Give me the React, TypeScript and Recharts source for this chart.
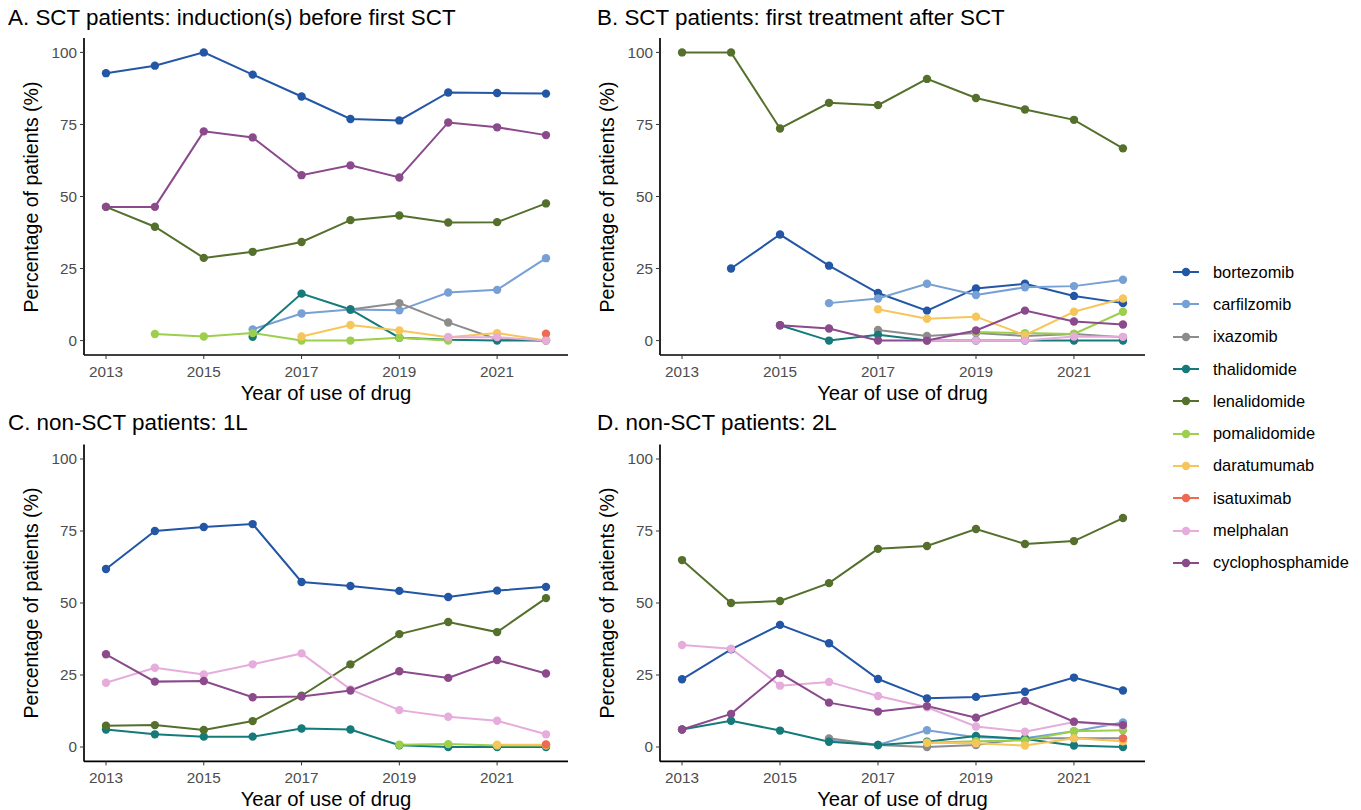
import React from "react";
import { LineChart, Line, XAxis, YAxis } from "recharts";

const years = [2013, 2014, 2015, 2016, 2017, 2018, 2019, 2020, 2021, 2022];
const yearTicks = [2013, 2015, 2017, 2019, 2021];
const pctTicks = [0, 25, 50, 75, 100];

const drugs = [
  "bortezomib",
  "carfilzomib",
  "ixazomib",
  "thalidomide",
  "lenalidomide",
  "pomalidomide",
  "daratumumab",
  "isatuximab",
  "melphalan",
  "cyclophosphamide",
];
const drugColors = [
  "#2357a6",
  "#77a0d4",
  "#8c8c8c",
  "#147a7a",
  "#55702c",
  "#9ccf4c",
  "#f6c65a",
  "#ee6a50",
  "#e6acdc",
  "#8a4a8c",
];

type Series = Record<string, (number | null)[]>;
const _ = null;

// A. SCT patients: induction(s) before first SCT
const panelA: Series = {
  bortezomib: [92.8, 95.4, 100, 92.3, 84.7, 76.9, 76.4, 86.1, 85.9, 85.7],
  carfilzomib: [_, _, _, 3.9, 9.4, 10.8, 10.5, 16.7, 17.6, 28.6],
  ixazomib: [_, _, _, _, _, 10.8, 13.0, 6.3, 0.5, 0],
  thalidomide: [_, _, _, 1.3, 16.3, 10.8, 1.0, 0.3, 0, 0],
  lenalidomide: [46.4, 39.5, 28.7, 30.8, 34.2, 41.8, 43.4, 41.0, 41.1, 47.6],
  pomalidomide: [_, 2.3, 1.4, 2.6, 0, 0, 1.0, 0, _, _],
  daratumumab: [_, _, _, _, 1.4, 5.4, 3.5, 1.2, 2.6, 0],
  isatuximab: [_, _, _, _, _, _, _, _, _, 2.4],
  melphalan: [_, _, _, _, _, _, _, 1.2, 1.2, 0],
  cyclophosphamide: [46.4, 46.4, 72.6, 70.5, 57.4, 60.8, 56.6, 75.7, 74.0, 71.3],
};

// B. SCT patients: first treatment after SCT
const panelB: Series = {
  bortezomib: [_, 25.0, 36.8, 26.0, 16.5, 10.4, 18.1, 19.7, 15.5, 13.0],
  carfilzomib: [_, _, _, 13.0, 14.6, 19.7, 15.8, 18.5, 18.9, 21.1],
  ixazomib: [_, _, _, _, 3.7, 1.6, 2.6, 1.6, 2.3, 1.2],
  thalidomide: [_, _, 5.3, 0, 2.0, 0, 0, 0, 0, 0],
  lenalidomide: [100, 100, 73.6, 82.5, 81.7, 90.8, 84.2, 80.2, 76.6, 66.7],
  pomalidomide: [_, _, _, _, _, _, 3.0, 2.6, 2.3, 10.0],
  daratumumab: [_, _, _, _, 10.9, 7.6, 8.3, 1.9, 10.0, 14.6],
  isatuximab: [_, _, _, _, _, _, _, _, _, _],
  melphalan: [_, _, _, _, _, 0, 0, 0, 1.4, 1.3],
  cyclophosphamide: [_, _, 5.3, 4.2, 0, 0, 3.5, 10.4, 6.6, 5.6],
};

// C. non-SCT patients: 1L
const panelC: Series = {
  bortezomib: [61.8, 75.0, 76.4, 77.4, 57.3, 55.9, 54.2, 52.1, 54.3, 55.6],
  carfilzomib: [_, _, _, _, _, _, _, _, _, _],
  ixazomib: [_, _, _, _, _, _, _, _, _, _],
  thalidomide: [6.1, 4.4, 3.6, 3.6, 6.4, 6.1, 0.6, 0, 0, 0],
  lenalidomide: [7.4, 7.6, 5.9, 9.0, 17.8, 28.7, 39.2, 43.4, 39.9, 51.7],
  pomalidomide: [_, _, _, _, _, _, 0.8, 1.0, 0.5, 0.5],
  daratumumab: [_, _, _, _, _, _, _, _, 0.8, 0.8],
  isatuximab: [_, _, _, _, _, _, _, _, _, 0.9],
  melphalan: [22.3, 27.5, 25.2, 28.7, 32.5, 20.0, 12.8, 10.5, 9.1, 4.4],
  cyclophosphamide: [32.2, 22.7, 22.9, 17.3, 17.5, 19.6, 26.3, 24.0, 30.2, 25.5],
};

// D. non-SCT patients: 2L
const panelD: Series = {
  bortezomib: [23.5, 33.9, 42.4, 36.0, 23.6, 16.9, 17.4, 19.2, 24.1, 19.6],
  carfilzomib: [_, _, _, 2.3, 0.7, 5.8, 3.4, 3.0, 5.5, 8.5],
  ixazomib: [_, _, _, 3.0, 0.7, 0, 0.7, 3.0, 3.0, 3.0],
  thalidomide: [6.1, 9.1, 5.7, 1.8, 0.7, 1.8, 3.8, 2.8, 0.5, 0],
  lenalidomide: [64.9, 50.0, 50.7, 56.9, 68.8, 69.8, 75.7, 70.5, 71.5, 79.5],
  pomalidomide: [_, _, _, _, _, 1.5, 2.0, 2.3, 5.5, 5.8],
  daratumumab: [_, _, _, _, _, 1.5, 1.3, 0.5, 3.0, 2.0],
  isatuximab: [_, _, _, _, _, _, _, _, _, 3.0],
  melphalan: [35.4, 34.1, 21.3, 22.6, 17.7, 13.8, 7.1, 5.3, 8.7, 7.3],
  cyclophosphamide: [6.1, 11.5, 25.6, 15.4, 12.3, 14.2, 10.2, 16.0, 8.8, 7.6],
};

const panelTitles = [
  "A. SCT patients: induction(s) before first SCT",
  "B. SCT patients: first treatment after SCT",
  "C. non-SCT patients: 1L",
  "D. non-SCT patients: 2L",
];

const FONT = '"Liberation Sans", Arial, Helvetica, sans-serif';
const tickStyle = { fill: "#4d4d4d", fontSize: 15.3, fontFamily: FONT };

function toRows(s: Series) {
  return years.map((year, i) => {
    const row: Record<string, number | null> = { year };
    drugs.forEach((d) => {
      row[d] = s[d][i];
    });
    return row;
  });
}

interface PanelProps {
  series: Series;
  title: string;
  left: number;
  top: number;
  width: number;
  height: number;
  marginTop: number;
  marginRight: number;
  yAxisWidth: number;
  xAxisHeight: number;
}

function Panel(p: PanelProps) {
  const rows = toRows(p.series);
  const plotLeft = p.left + p.yAxisWidth;
  const plotRight = p.left + p.width - p.marginRight;
  const plotTop = p.top + p.marginTop;
  const plotBottom = p.top + p.height - p.xAxisHeight;
  const present = drugs.filter((d) => p.series[d].some((v) => v !== null));

  return (
    <>
      <div
        style={{
          position: "absolute",
          left: p.left + (p.left > 0 ? 17 : 8),
          top: p.top + 6,
          fontSize: 22.4,
          lineHeight: "24px",
          color: "#000",
          whiteSpace: "nowrap",
        }}
      >
        {p.title}
      </div>
      <div style={{ position: "absolute", left: p.left, top: p.top }}>
        <LineChart
          width={p.width}
          height={p.height}
          data={rows}
          margin={{ top: p.marginTop, right: p.marginRight, bottom: 0, left: 0 }}
        >
          <XAxis
            dataKey="year"
            type="number"
            domain={[2012.55, 2022.45]}
            ticks={yearTicks}
            allowDataOverflow
            height={p.xAxisHeight}
            axisLine={{ stroke: "#000", strokeWidth: 1.7 }}
            tickLine={{ stroke: "#333" }}
            tickSize={4}
            tickMargin={7}
            tick={tickStyle}
          />
          <YAxis
            type="number"
            domain={[-5, 105]}
            ticks={pctTicks}
            allowDataOverflow
            width={p.yAxisWidth}
            axisLine={{ stroke: "#000", strokeWidth: 1.7 }}
            tickLine={{ stroke: "#333" }}
            tickSize={4}
            tickMargin={3}
            tick={tickStyle}
          />
          {present.map((d) => (
            <Line
              key={"l-" + d}
              dataKey={d}
              stroke={drugColors[drugs.indexOf(d)]}
              strokeWidth={2}
              dot={false}
              activeDot={false}
              connectNulls
              isAnimationActive={false}
            />
          ))}
          {present.map((d) => (
            <Line
              key={"p-" + d}
              dataKey={d}
              stroke="none"
              strokeWidth={0}
              dot={{ r: 4.2, fill: drugColors[drugs.indexOf(d)], stroke: "none" }}
              activeDot={false}
              legendType="none"
              isAnimationActive={false}
            />
          ))}
        </LineChart>
      </div>
      <div
        style={{
          position: "absolute",
          left: p.left + (p.left > 0 ? 27 : 31) - 150,
          top: (plotTop + plotBottom) / 2 - 11,
          width: 300,
          height: 22,
          textAlign: "center",
          fontSize: 19.5,
          lineHeight: "22px",
          transform: "rotate(-90deg)",
          whiteSpace: "nowrap",
        }}
      >
        Percentage of patients (%)
      </div>
      <div
        style={{
          position: "absolute",
          left: plotLeft,
          width: plotRight - plotLeft,
          top: plotBottom + 27,
          textAlign: "center",
          fontSize: 20.3,
          lineHeight: "22px",
          whiteSpace: "nowrap",
        }}
      >
        Year of use of drug
      </div>
    </>
  );
}

function Legend() {
  return (
    <div style={{ position: "absolute", left: 1172, top: 256 }}>
      {drugs.map((d, i) => (
        <div
          key={d}
          style={{ display: "flex", alignItems: "center", height: 32.3 }}
        >
          <svg width={28} height={12} style={{ marginRight: 13 }}>
            <line x1={1} y1={6} x2={27} y2={6} stroke={drugColors[i]} strokeWidth={2} />
            <circle cx={14} cy={6} r={4.2} fill={drugColors[i]} />
          </svg>
          <span style={{ fontSize: 16.4, color: "#000" }}>{d}</span>
        </div>
      ))}
    </div>
  );
}

export default function App() {
  return (
    <div
      style={{
        position: "absolute",
        left: 0,
        top: 0,
        width: 1361,
        height: 810,
        background: "#fff",
        fontFamily: FONT,
        overflow: "hidden",
      }}
    >
      <Panel
        series={panelA}
        title={panelTitles[0]}
        left={0}
        top={0}
        width={580}
        height={410}
        marginTop={38}
        marginRight={12}
        yAxisWidth={84}
        xAxisHeight={55}
      />
      <Panel
        series={panelB}
        title={panelTitles[1]}
        left={580}
        top={0}
        width={580}
        height={410}
        marginTop={38}
        marginRight={15}
        yAxisWidth={80}
        xAxisHeight={55}
      />
      <Panel
        series={panelC}
        title={panelTitles[2]}
        left={0}
        top={405}
        width={580}
        height={405}
        marginTop={39.6}
        marginRight={12}
        yAxisWidth={84}
        xAxisHeight={48.6}
      />
      <Panel
        series={panelD}
        title={panelTitles[3]}
        left={580}
        top={405}
        width={580}
        height={405}
        marginTop={39.6}
        marginRight={15}
        yAxisWidth={80}
        xAxisHeight={48.6}
      />
      <Legend />
    </div>
  );
}
